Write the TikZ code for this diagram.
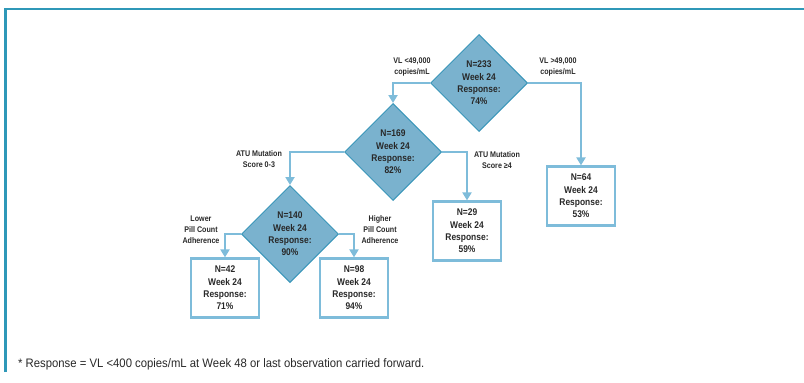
\documentclass[tikz,border=0pt]{standalone}
\usepackage{fontspec}
\setmainfont{Liberation Sans}[FakeStretch=0.87]
\newfontfamily\notefont{Liberation Sans}[FakeStretch=0.92]
\usetikzlibrary{shapes.geometric, arrows.meta}
\definecolor{framecol}{RGB}{47,152,184}
\definecolor{linecol}{RGB}{126,188,218}
\definecolor{diafill}{RGB}{122,178,206}
\definecolor{diadraw}{RGB}{58,150,185}
\definecolor{inkcol}{RGB}{40,40,40}
\tikzset{>={Triangle[width=9pt,length=8pt]}}
\tikzset{
  split/.style={diamond, draw=diadraw, fill=diafill, line width=1pt, minimum width=97pt, minimum height=97pt, inner sep=0pt, align=center, text=inkcol, font=\bfseries\fontsize{9.7}{12.3}\selectfont},
  result/.style={rectangle, draw=linecol, line width=2.2pt, minimum width=68pt, minimum height=59pt, inner sep=0pt, align=center, text=inkcol, font=\bfseries\fontsize{9.7}{12.3}\selectfont},
  branch/.style={align=center, inner sep=0pt, text=inkcol, font=\bfseries\fontsize{8.2}{11}\selectfont},
  link/.style={linecol, line width=2.2pt, ->}
}

\begin{document}
\begin{tikzpicture}[x=1pt, y=-1pt]
    \useasboundingbox (0,0) rectangle (804,383);
    \draw[framecol, line width=2.5pt](5.5, 372)--(5.5, 9)--(804, 9);
    % splits
    \node[split] (n233) at (479, 83) {N=233\\Week 24\\Response:\\74\%};
    \node[split] (n169) at (393, 152) {N=169\\Week 24\\Response:\\82\%};
    \node[split] (n140) at (290, 234) {N=140\\Week 24\\Response:\\90\%};
    % end boxes
    \node[result] (n64) at (581, 196) {N=64\\Week 24\\Response:\\53\%};
    \node[result] (n29) at (467, 231) {N=29\\Week 24\\Response:\\59\%};
    \node[result] (n42) at (225, 288) {N=42\\Week 24\\Response:\\71\%};
    \node[result] (n98) at (354, 288) {N=98\\Week 24\\Response:\\94\%};
    % branch texts
    \node[branch] (vllow) at (412, 67) {VL <49,000\\copies/mL};
    \node[branch] (vlhigh) at (558, 67) {VL >49,000\\copies/mL};
    \node[branch] (atulow) at (259, 159) {ATU Mutation\\Score 0-3};
    \node[branch] (atuhigh) at (497, 160) {ATU Mutation\\Score ≥4};
    \node[branch] (pilllow) at (201, 230) {Lower\\Pill Count\\Adherence};
    \node[branch] (pillhigh) at (380, 230) {Higher\\Pill Count\\Adherence};
    \draw[link](n233.west)-|(n169.north);
    \draw[link](n233.east)-|(n64.north);
    \draw[link](n169.west)-|(n140.north);
    \draw[link](n169.east)-|(n29.north);
    \draw[link](n140.west)-|(n42.north);
    \draw[link](n140.east)-|(n98.north);
    \node[anchor=west, inner sep=0pt, text=inkcol, font=\notefont\fontsize{12.3}{14}\selectfont] (note) at (18, 364) {* Response = VL <400 copies/mL at Week 48 or last observation carried forward.};
\end{tikzpicture}
\end{document}
